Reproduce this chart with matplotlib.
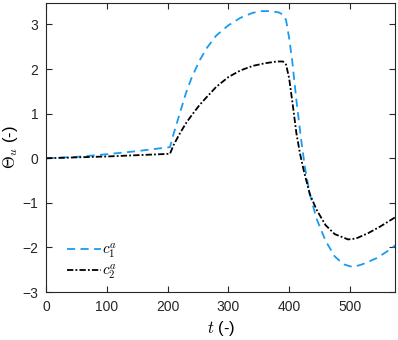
import numpy as np
import matplotlib
matplotlib.use('Agg')
import matplotlib.pyplot as plt

# Curves
t1 = [0, 50, 100, 150, 204, 210, 220, 230, 240, 253, 265, 280, 300, 320, 340,
      355, 370, 383, 390, 395, 400, 405, 412, 420, 426, 434, 445, 460, 475,
      490, 505, 520, 544, 560, 575]
c1 = [0, 0.03, 0.09, 0.16, 0.25, 0.55, 1.0, 1.45, 1.82, 2.2, 2.48, 2.75, 2.98,
      3.15, 3.26, 3.3, 3.3, 3.27, 3.22, 3.1, 2.7, 2.2, 1.3, 0.4, -0.2, -0.8,
      -1.35, -1.85, -2.2, -2.38, -2.44, -2.38, -2.24, -2.1, -1.95]

t2 = [0, 100, 204, 210, 220, 230, 240, 253, 265, 280, 300, 320, 340, 360, 380,
      390, 395, 400, 406, 412, 418, 424, 434, 445, 460, 475, 497, 510, 530,
      550, 575]
c2 = [0, 0.04, 0.1, 0.3, 0.55, 0.78, 0.97, 1.2, 1.38, 1.6, 1.82, 1.97, 2.07,
      2.13, 2.17, 2.17, 2.1, 1.8, 1.2, 0.56, 0.1, -0.27, -0.8, -1.15, -1.5,
      -1.7, -1.82, -1.8, -1.68, -1.53, -1.32]

xticks = [0, 100, 200, 300, 400, 500]
yticks = [-3, -2, -1, 0, 1, 2, 3]

plt.rcParams['font.family'] = ['Liberation Sans', 'DejaVu Sans']
plt.rcParams['mathtext.fontset'] = 'cm'

fig = plt.figure(figsize=(3.98, 3.40), dpi=100)
ax = fig.add_axes([0.1156, 0.141, 0.878, 0.85])

ax.plot(t1, c1, color='#1A9BF0', linestyle=(0, (4.5, 3)), linewidth=1.3, label='$c_1^a$')
ax.plot(t2, c2, color='black', linestyle=(0, (3.5, 1.2, 1, 1.2)), linewidth=1.3, label='$c_2^a$')

ax.set_xlim(0, 575)
ax.set_ylim(-3, 3.48)
ax.set_xticks(xticks)
ax.set_yticks(yticks)
ax.tick_params(direction='in', top=True, right=True, labelsize=10, length=4,
               width=0.8, colors='#262626')
ax.tick_params(axis='x', pad=6)
ax.tick_params(axis='y', pad=5.5)
for s in ax.spines.values():
    s.set_color('#262626')
    s.set_linewidth(0.8)

ax.set_xlabel('$t$ (-)', fontsize=12, labelpad=3)
ax.set_ylabel(r'$\Theta_u$ (-)', fontsize=12, labelpad=2)

ax.legend(loc='lower left', frameon=False, fontsize=11, handlelength=2.2,
          handletextpad=0.05, labelspacing=0.15, borderaxespad=0.3,
          bbox_to_anchor=(0.03, 0.0))

fig.savefig('out.png', dpi=100)
